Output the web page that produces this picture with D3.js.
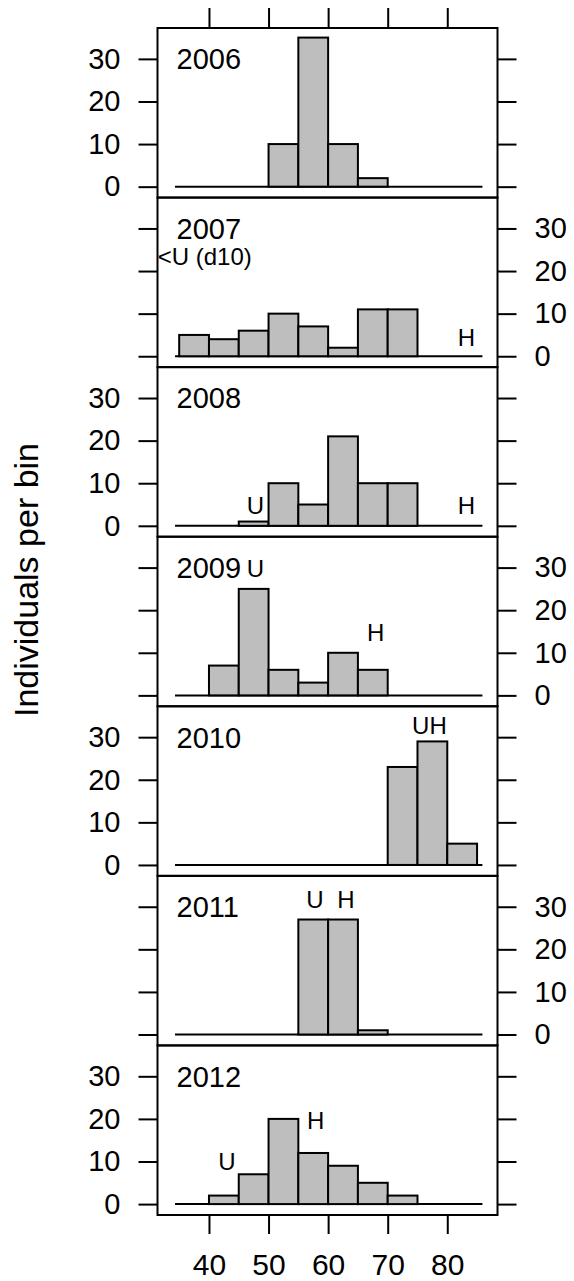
<!DOCTYPE html>
<html><head><meta charset="utf-8">
<script src="https://cdn.jsdelivr.net/npm/d3@7"></script>
<style>body{margin:0;background:#fff}svg{display:block}text{font-family:"Liberation Sans",Arial,sans-serif;fill:#000}</style>
</head><body><div id="chart"></div>
<script>
const years = ["2006","2007","2008","2009","2010","2011","2012"];
const binStarts = [35,40,45,50,55,60,65,70,75,80];
const binWidth = 5;
const counts2006 = [0,0,0,10,35,10,2,0,0,0];
const counts2007 = [5,4,6,10,7,2,11,11,0,0];
const counts2008 = [0,0,1,10,5,21,10,10,0,0];
const counts2009 = [0,7,25,6,3,10,6,0,0,0];
const counts2010 = [0,0,0,0,0,0,0,23,29,5];
const counts2011 = [0,0,0,0,27,27,1,0,0,0];
const counts2012 = [0,2,7,20,12,9,5,2,0,0];
const allCounts = [counts2006,counts2007,counts2008,counts2009,counts2010,counts2011,counts2012];
const xTicks = [40,50,60,70,80];
const yTicks = [0,10,20,30];
const baselineRange = [34.3,85.9];
// annotations: [panelIndex, label, x (value), y (count), anchor]
const notes = [
  [1,"<U (d10)",31.4,21.5,"start"],
  [1,"H",83.2,2.5,"middle"],
  [2,"U",47.8,2.7,"middle"],
  [2,"H",83.2,2.7,"middle"],
  [3,"U",47.8,27.9,"middle"],
  [3,"H",68.0,12.7,"middle"],
  [4,"UH",77.0,30.8,"middle"],
  [5,"U",57.8,29.7,"middle"],
  [5,"H",63.0,29.7,"middle"],
  [6,"U",43.0,7.9,"middle"],
  [6,"H",57.9,17.7,"middle"]
];
const yLabel = "Individuals per bin";

(function(){
const W = 574, H = 1281;
const pLeft = 157.5, pRight = 497.5, pTop = 28, pBottom = 1215;
const nP = years.length;
const pH = (pBottom - pTop) / nP;

const svg = d3.select("#chart").append("svg").attr("width", W).attr("height", H);
const x = d3.scaleLinear().domain([31.36, 88.43]).range([pLeft, pRight]);
const y = d3.scaleLinear().domain([-2.56, 37.25]).range([pH, 0]);

years.forEach((yr, i) => {
  const g = svg.append("g").attr("transform", `translate(0,${pTop + i * pH})`);
  const data = allCounts[i].map((c, j) => ({x0: binStarts[j], x1: binStarts[j] + binWidth, c}));
  g.append("line").attr("x1", x(baselineRange[0])).attr("x2", x(baselineRange[1]))
    .attr("y1", y(0)).attr("y2", y(0)).attr("stroke", "#000").attr("stroke-width", 2);
  g.selectAll("rect.bar").data(data.filter(d => d.c > 0)).join("rect").attr("class","bar")
    .attr("x", d => x(d.x0)).attr("width", d => x(d.x1) - x(d.x0))
    .attr("y", d => y(d.c)).attr("height", d => y(0) - y(d.c))
    .attr("fill", "#bebebe").attr("stroke", "#000").attr("stroke-width", 2);
  g.append("rect").attr("x", pLeft).attr("y", 0).attr("width", pRight - pLeft).attr("height", pH)
    .attr("fill", "none").attr("stroke", "#000").attr("stroke-width", 2);
  const leftSide = i % 2 === 0;
  const axL = d3.axisLeft(y).tickValues(yTicks).tickSize(19).tickPadding(18).tickFormat(leftSide ? d3.format("d") : () => "");
  const axR = d3.axisRight(y).tickValues(yTicks).tickSize(19).tickPadding(18).tickFormat(leftSide ? () => "" : d3.format("d"));
  [[axL, pLeft], [axR, pRight]].forEach(([ax, px]) => {
    const a = g.append("g").attr("transform", `translate(${px},0)`).call(ax);
    a.select(".domain").remove();
    a.selectAll("line").attr("stroke", "#000").attr("stroke-width", 2);
    a.selectAll("text").attr("font-size", 29).attr("font-family", "Liberation Sans, Arial, sans-serif");
  });
  g.append("text").attr("x", 176.5).attr("y", 41.3).attr("font-size", 29).text(yr);
  notes.filter(n => n[0] === i).forEach(n => {
    g.append("text").attr("x", x(n[2])).attr("y", y(n[3])).attr("text-anchor", n[4])
      .attr("font-size", 24).text(n[1]);
  });
});

const axT = d3.axisTop(x).tickValues(xTicks).tickSize(20).tickFormat(() => "");
const at = svg.append("g").attr("transform", `translate(0,${pTop})`).call(axT);
at.select(".domain").remove();
at.selectAll("line").attr("stroke", "#000").attr("stroke-width", 2);
const axB = d3.axisBottom(x).tickValues(xTicks).tickSize(19).tickPadding(20).tickFormat(d3.format("d"));
const ab = svg.append("g").attr("transform", `translate(0,${pBottom})`).call(axB);
ab.select(".domain").remove();
ab.selectAll("line").attr("stroke", "#000").attr("stroke-width", 2);
ab.selectAll("text").attr("font-size", 30).attr("font-family", "Liberation Sans, Arial, sans-serif");

svg.append("text").attr("transform", `translate(38,580) rotate(-90)`)
  .attr("text-anchor", "middle").attr("font-size", 34).text(yLabel);
})();
</script></body></html>
